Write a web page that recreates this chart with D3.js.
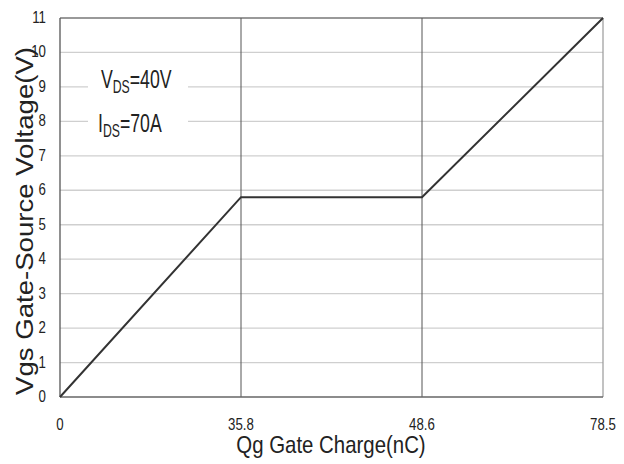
<!DOCTYPE html>
<html lang="en">
<head>
    <meta charset="UTF-8">
    <title>Gate Charge</title>
    <script src="https://d3js.org/d3.v7.min.js"></script>
    <style>
        body { margin: 0; background: white; }
        text { font-family: "Liberation Sans", Arial, sans-serif; }
    </style>
</head>
<body>
    <div id="chart"></div>
    <script>
        // chart data
        var charge = ["0", "35.8", "48.6", "78.5"];
        var vgs = [0, 5.8, 5.8, 11];
        var yTicks = [0, 1, 2, 3, 4, 5, 6, 7, 8, 9, 10, 11];
        var vGrid = ["35.8", "48.6"];

        (function () {
            var width = 624, height = 464;
            var m = { left: 60, right: 603, top: 18, bottom: 397 };

            var svg = d3.select("#chart").append("svg")
                .attr("width", width)
                .attr("height", height);

            var x = d3.scalePoint().domain(charge).range([m.left, m.right]);
            var y = d3.scaleLinear().domain([0, 11]).range([m.bottom, m.top]);

            // narrow text helper: placed at (px,py), squeezed horizontally to mimic Arial Narrow
            function narrowText(px, py, size, anchor, squeeze) {
                return svg.append("text")
                    .attr("transform", "translate(" + px + "," + py + ") scale(" + (squeeze || 0.8) + ",1)")
                    .attr("text-anchor", anchor)
                    .attr("font-size", size)
                    .attr("fill", "#222");
            }

            // horizontal gridlines
            svg.selectAll(".hgrid")
                .data(yTicks.slice(1))
                .join("line")
                .attr("x1", m.left).attr("x2", m.right)
                .attr("y1", d => y(d)).attr("y2", d => y(d))
                .attr("stroke", d => d == 11 ? "#777" : "#cfcfcf")
                .attr("stroke-width", d => d == 11 ? 1.5 : 1.3);

            // vertical lines
            svg.selectAll(".vgrid")
                .data(vGrid)
                .join("line")
                .attr("x1", d => x(d)).attr("x2", d => x(d))
                .attr("y1", m.top).attr("y2", m.bottom)
                .attr("stroke", "#555")
                .attr("stroke-width", 1);

            // right border
            svg.append("line")
                .attr("x1", m.right).attr("x2", m.right)
                .attr("y1", m.top).attr("y2", m.bottom)
                .attr("stroke", "#999").attr("stroke-width", 1.2);

            // axis lines
            svg.append("line")
                .attr("x1", m.left).attr("x2", m.left)
                .attr("y1", m.top).attr("y2", m.bottom)
                .attr("stroke", "#555").attr("stroke-width", 1.3);
            svg.append("line")
                .attr("x1", m.left).attr("x2", m.right)
                .attr("y1", m.bottom).attr("y2", m.bottom)
                .attr("stroke", "#666").attr("stroke-width", 1.5);

            // y tick labels
            yTicks.forEach(function (d) {
                narrowText(46, y(d) + 5, 17, "end", 0.78).text(d);
            });

            // x tick labels
            charge.forEach(function (d) {
                narrowText(x(d), 430, 17, "middle", 0.78).text(d);
            });

            // annotation
            svg.append("rect")
                .attr("x", 88).attr("y", 62)
                .attr("width", 100).attr("height", 76)
                .attr("fill", "white");

            var t1 = narrowText(101, 88, 26, "start", 0.68);
            t1.append("tspan").text("V");
            t1.append("tspan").attr("font-size", 18).attr("dy", 5).text("DS");
            t1.append("tspan").attr("dy", -5).text("=40V");
            var t2 = narrowText(98, 132, 26, "start", 0.68);
            t2.append("tspan").text("I");
            t2.append("tspan").attr("font-size", 18).attr("dy", 5).text("DS");
            t2.append("tspan").attr("dy", -5).text("=70A");

            // curve
            var line = d3.line()
                .x((d, i) => x(charge[i]))
                .y(d => y(d));
            svg.append("path")
                .datum(vgs)
                .attr("d", line)
                .attr("fill", "none")
                .attr("stroke", "#333")
                .attr("stroke-width", 2);

            // axis titles
            narrowText(331, 453, 24, "middle", 0.85).text("Qg Gate Charge(nC)");

            svg.append("text")
                .attr("transform", "translate(33,221) rotate(-90)")
                .attr("text-anchor", "middle")
                .attr("font-size", 23)
                .attr("textLength", 348)
                .attr("lengthAdjust", "spacingAndGlyphs")
                .attr("fill", "#222")
                .text("Vgs Gate-Source Voltage(V)");
        })();
    </script>
</body>
</html>
